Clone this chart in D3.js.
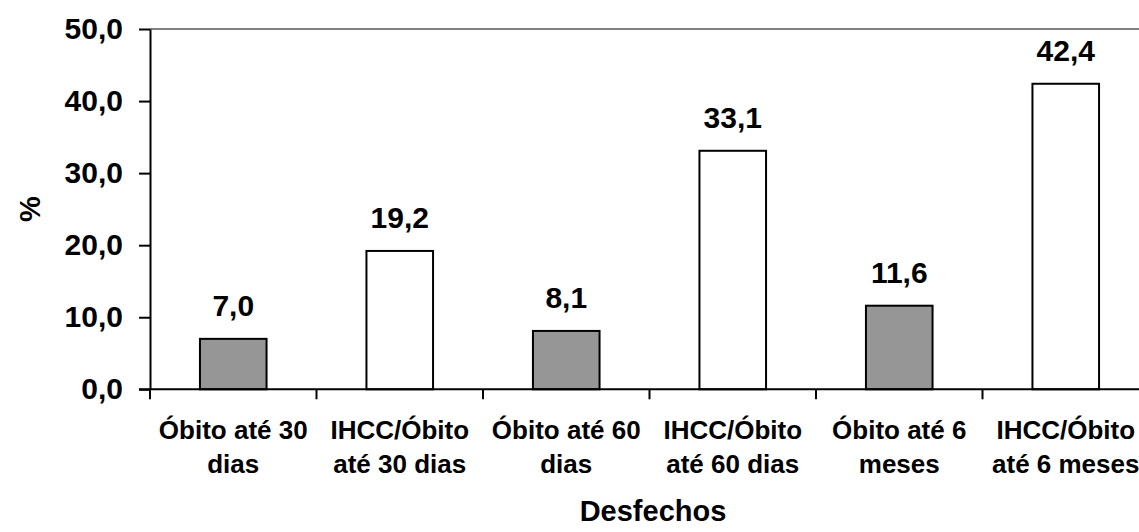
<!DOCTYPE html>
<html>
<head>
<meta charset="utf-8">
<script src="https://cdn.jsdelivr.net/npm/d3@7"></script>
<style>
  body { margin: 0; background: #fff; }
  svg { display: block; font-family: 'Liberation Sans', Arial, sans-serif; font-weight: bold; }
</style>
</head>
<body>
<svg></svg>
<script>
// Data
const categories = [
    ['Óbito até 30', 'dias'],
    ['IHCC/Óbito', 'até 30 dias'],
    ['Óbito até 60', 'dias'],
    ['IHCC/Óbito', 'até 60 dias'],
    ['Óbito até 6', 'meses'],
    ['IHCC/Óbito', 'até 6 meses']
]
const values = [7.0, 19.2, 8.1, 33.1, 11.6, 42.4]
const fills = ['#969696', '#ffffff', '#969696', '#ffffff', '#969696', '#ffffff']
const yTicks = [0, 10, 20, 30, 40, 50]
const xTitle = 'Desfechos'
const yTitle = '%'

// Canvas setup
let width = 1139
let height = 532
let plotLeft = 150
let plotRight = 1149
let plotTop = 29
let plotBottom = 389.3

let svg = d3.select('svg')
    .attr('width', width)
    .attr('height', height)

let fmt = (v) => v.toFixed(1).replace('.', ',')

// Scales
let xScale = d3.scaleBand()
    .domain(d3.range(categories.length))
    .range([plotLeft, plotRight])
    .paddingInner(0.6)
    .paddingOuter(0.3)

let yScale = d3.scaleLinear()
    .domain([0, 50])
    .range([plotBottom, plotTop])

let step = xScale.step()
let center = (i) => xScale(i) + xScale.bandwidth() / 2

// top border of plot area
svg.append('line')
    .attr('x1', plotLeft).attr('x2', plotRight)
    .attr('y1', yScale(50)).attr('y2', yScale(50))
    .attr('stroke', '#808080')
    .attr('stroke-width', 2)

// Bars
svg.selectAll('rect.bar')
    .data(values)
    .enter()
    .append('rect')
    .attr('class', 'bar')
    .attr('x', (d, i) => xScale(i))
    .attr('width', xScale.bandwidth())
    .attr('y', (d) => yScale(d))
    .attr('height', (d) => yScale(0) - yScale(d))
    .attr('fill', (d, i) => fills[i])
    .attr('stroke', '#000')
    .attr('stroke-width', 2)

// Value labels
svg.selectAll('text.value')
    .data(values)
    .enter()
    .append('text')
    .attr('class', 'value')
    .attr('x', (d, i) => center(i))
    .attr('y', (d) => yScale(d) - 23)
    .attr('text-anchor', 'middle')
    .attr('font-size', 30)
    .text((d) => fmt(d))

// Y axis
let yAxis = d3.axisLeft(yScale)
    .tickValues(yTicks)
    .tickFormat(fmt)
    .tickSize(11)
    .tickSizeOuter(0)
    .tickPadding(16)

let gy = svg.append('g')
    .attr('transform', 'translate(' + plotLeft + ',0)')
    .call(yAxis)
gy.select('.domain').attr('stroke', '#000').attr('stroke-width', 2)
gy.selectAll('.tick line').attr('stroke', '#000').attr('stroke-width', 2)
gy.selectAll('.tick text')
    .attr('font-size', 30)
    .attr('font-weight', 'bold')
    .attr('font-family', "'Liberation Sans', Arial, sans-serif")
    .attr('fill', '#000')

// X axis line and tick marks at category boundaries
svg.append('line')
    .attr('x1', plotLeft - 11).attr('x2', plotRight)
    .attr('y1', yScale(0)).attr('y2', yScale(0))
    .attr('stroke', '#000')
    .attr('stroke-width', 2)

let bounds = d3.range(categories.length + 1).map((i) => plotLeft + i * step)
svg.selectAll('line.xtick')
    .data(bounds)
    .enter()
    .append('line')
    .attr('class', 'xtick')
    .attr('x1', (d) => d).attr('x2', (d) => d)
    .attr('y1', yScale(0)).attr('y2', yScale(0) + 10)
    .attr('stroke', '#000')
    .attr('stroke-width', 2)

// Category labels
let catLabels = svg.selectAll('text.cat')
    .data(categories)
    .enter()
    .append('text')
    .attr('class', 'cat')
    .attr('text-anchor', 'middle')
    .attr('font-size', 26)

catLabels.selectAll('tspan')
    .data((d, i) => d.map((line) => ({ line: line, i: i })))
    .enter()
    .append('tspan')
    .attr('x', (d) => center(d.i))
    .attr('y', (d, j) => 439 + j * 34)
    .text((d) => d.line)

// Axis titles
svg.append('text')
    .attr('x', 653)
    .attr('y', 521)
    .attr('text-anchor', 'middle')
    .attr('font-size', 29)
    .text(xTitle)

svg.append('text')
    .attr('transform', 'translate(40,' + ((plotTop + plotBottom) / 2) + ') rotate(-90)')
    .attr('text-anchor', 'middle')
    .attr('font-size', 29)
    .text(yTitle)
</script>
</body>
</html>
